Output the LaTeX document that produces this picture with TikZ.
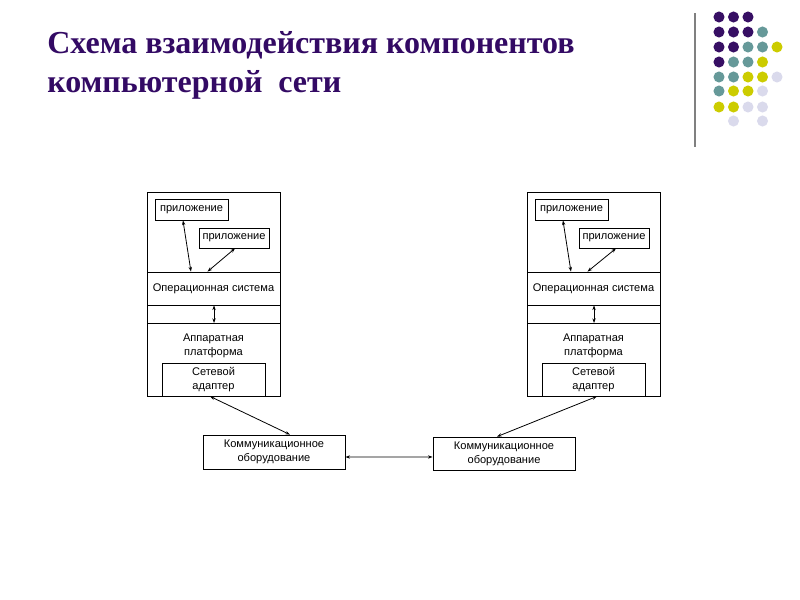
\documentclass[tikz,border=0pt]{standalone}
\usepackage{fontspec}
\setmainfont{Liberation Serif}
\newfontfamily\diagfont{Liberation Sans}
\usetikzlibrary{arrows.meta}
\definecolor{titlecol}{RGB}{51,10,100}
\definecolor{dotP}{RGB}{55,15,100}
\definecolor{dotT}{RGB}{102,153,153}
\definecolor{dotY}{RGB}{204,204,0}
\definecolor{dotL}{RGB}{218,218,236}
\definecolor{dotN}{RGB}{255,255,255}
\begin{document}
\begin{tikzpicture}[x=0.75pt,y=-0.75pt,
  box/.style={draw=black,line width=0.6pt,inner sep=0pt,font=\diagfont\fontsize{8.3}{10.5}\selectfont,align=center},
  link/.style={line width=0.6pt,{Stealth[length=3.5pt,width=2.5pt]}-{Stealth[length=3.5pt,width=2.5pt]}},
  dot/.style={circle,inner sep=0pt,minimum size=8.3pt},
  ttl/.style={anchor=base west,inner sep=0pt,text=titlecol,font=\bfseries\fontsize{24}{28}\selectfont}]
\useasboundingbox (0,0) rectangle (800,600);
% title
\node[ttl] (t1) at (47,53) {Схема взаимодействия компонентов};
\node[ttl] (t2) at (47,92) {компьютерной\ \ сети};
% decoration
\draw[gray,line width=1.5pt] (695,13) -- (695,147);
\foreach \r/\row in {17/{P,P,P,N,N},32/{P,P,P,T,N},47/{P,P,T,T,Y},62/{P,T,T,Y,N},77/{T,T,Y,Y,L},91/{T,Y,Y,L,N},107/{Y,Y,L,L,N},121/{N,L,N,L,N}}{
  \foreach \c [count=\i from 0] in \row {
      \node[dot,fill=dot\c] at (719+\i*14.5,\r) {};
  }
}
% stacks
\foreach \s/\dx in {L/0,R/380}{
  \begin{scope}[xshift=\dx*0.75pt]
  \node[box,minimum width=99.75pt,minimum height=153pt] (outer\s) at (213.5,294) {};
  \node[box,minimum width=99.75pt,minimum height=24.75pt] (os\s) at (213.5,288.5) {Операционная система};
  \node[box,minimum width=99.75pt,minimum height=54.75pt,anchor=north] (plat\s) at (213.5,323) {};
  \node[font=\diagfont\fontsize{8.3}{10.5}\selectfont,align=center,inner sep=0pt] (platt\s) at (213.5,346) {Аппаратная\\платформа};
  \node[box,minimum width=77.25pt,minimum height=24.75pt,fill=white] (adap\s) at (213.5,379.5) {Сетевой\\адаптер};
  \node[box,minimum width=54.75pt,minimum height=15.75pt] (appa\s) at (191.5,209.5) {приложение};
  \node[box,minimum width=52.5pt,minimum height=15pt] (appb\s) at (234,238) {приложение};
  \end{scope}
}
\draw[link] ([xshift=-6.4pt]appaL.south) -- ([xshift=-16.9pt]osL.north);
\draw[link] ([xshift=0.75pt]appbL.south) -- ([xshift=-4.5pt]osL.north);
\draw[link] ([xshift=0.4pt]osL.south) -- ([xshift=0.4pt]platL.north);
\draw[link] ([xshift=-6.4pt]appaR.south) -- ([xshift=-16.9pt]osR.north);
\draw[link] ([xshift=1.5pt]appbR.south) -- ([xshift=-4.5pt]osR.north);
\draw[link] ([xshift=0.4pt]osR.south) -- ([xshift=0.4pt]platR.north);
% communication equipment
\node[box,minimum width=106.5pt,minimum height=25.5pt] (comm1) at (274,452) {Коммуникационное\\оборудование};
\node[box,minimum width=106.5pt,minimum height=24.75pt] (comm2) at (504,453.5) {Коммуникационное\\оборудование};
\draw[link] ([xshift=-2.6pt]adapL.south) -- ([xshift=12pt]comm1.north);
\draw[link] ([xshift=2.6pt]adapR.south) -- ([xshift=-5.25pt]comm2.north);
\draw[link] ([yshift=-3.75pt]comm1.east) -- ([yshift=-2.6pt]comm2.west);
\end{tikzpicture}
\end{document}
